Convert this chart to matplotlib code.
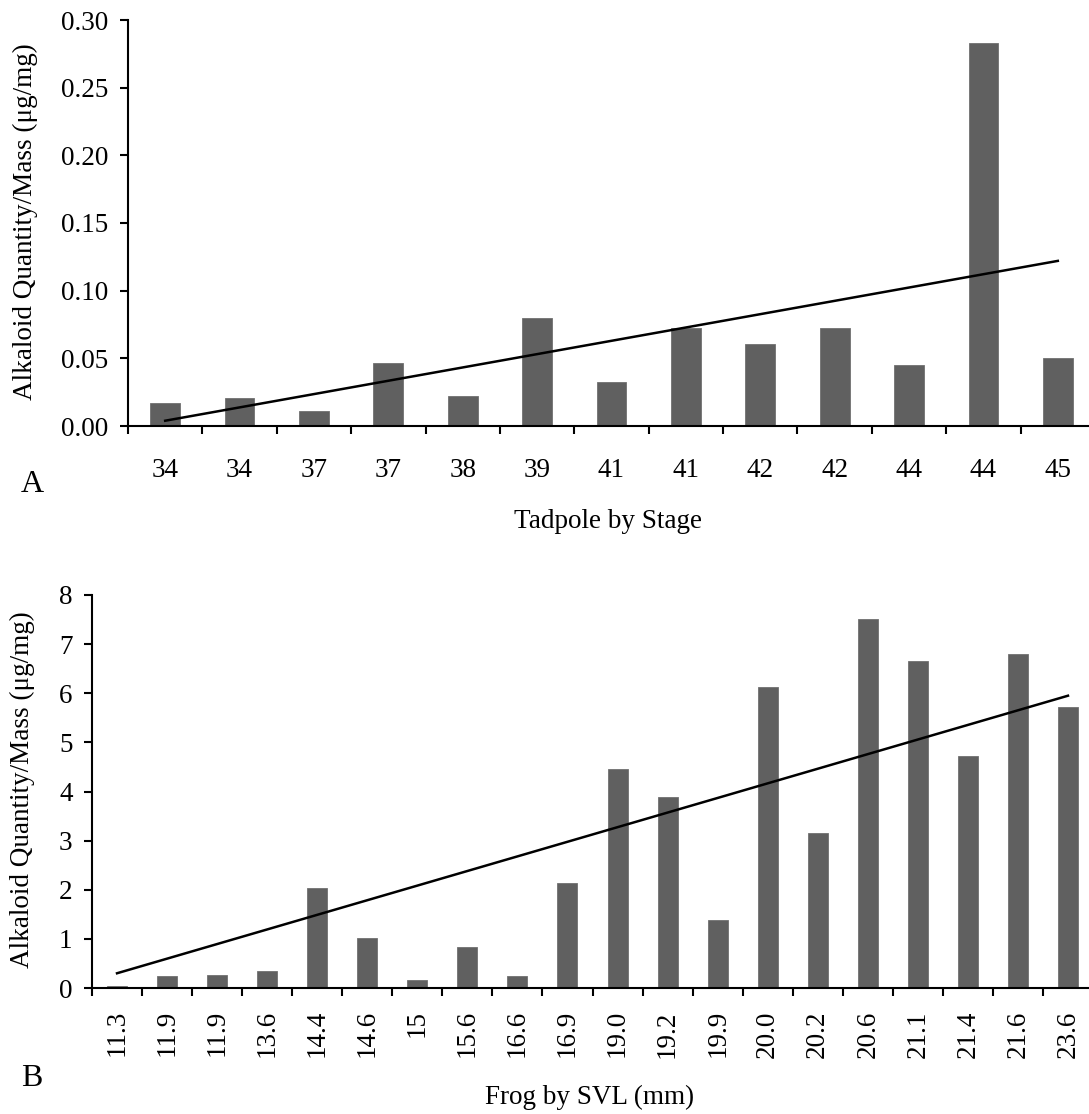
import matplotlib
matplotlib.use("Agg")
import matplotlib.pyplot as plt
import numpy as np
from matplotlib.ticker import FixedLocator, FormatStrFormatter

plt.rcParams['font.family'] = ['Liberation Serif', 'DejaVu Serif']

# ---- Data ----
tadpole_stages = ["34", "34", "37", "37", "38", "39", "41", "41", "42", "42", "44", "44", "45"]
tadpole_values = [0.0172, 0.0209, 0.0113, 0.0468, 0.0222, 0.0800, 0.0328, 0.0722,
                  0.0604, 0.0727, 0.0451, 0.2833, 0.0505]
tadpole_trend = [0.0039, 0.1220]   # trend line value at first and last bar

frog_svl = ["11.3", "11.9", "11.9", "13.6", "14.4", "14.6", "15", "15.6", "16.6", "16.9",
            "19.0", "19.2", "19.9", "20.0", "20.2", "20.6", "21.1", "21.4", "21.6", "23.6"]
frog_values = [0.035, 0.236, 0.257, 0.354, 2.04, 1.02, 0.17, 0.84, 0.25, 2.14,
               4.45, 3.88, 1.375, 6.13, 3.15, 7.51, 6.65, 4.72, 6.79, 5.72]
frog_trend = [0.30, 5.95]

bar_color = '#606060'
FS = 19.5
W, H = 1089, 1114
fig = plt.figure(figsize=(W / 100, H / 100), dpi=100)

def style(ax, n, labels, ymax, yticks, fmt, rot, pad):
    x = np.arange(n)
    ax.set_xlim(-0.5, n - 0.5)
    ax.set_ylim(0, ymax)
    for s in ['top', 'right']:
        ax.spines[s].set_visible(False)
    for s in ['left', 'bottom']:
        ax.spines[s].set_linewidth(1.5)
        ax.spines[s].set_color('black')
    ax.set_xticks(x)
    ax.set_xticklabels(labels, rotation=rot, fontsize=FS)
    ax.xaxis.set_minor_locator(FixedLocator(np.arange(n + 1) - 0.5))
    ax.tick_params(axis='x', which='major', length=0, pad=pad)
    ax.tick_params(axis='x', which='minor', length=6, width=1.5, direction='out')
    ax.set_yticks(yticks)
    ax.yaxis.set_major_formatter(FormatStrFormatter(fmt))
    ax.tick_params(axis='y', which='major', length=6, width=1.5, direction='out',
                   labelsize=FS, pad=8)

# ---- Panel A ----
axA = fig.add_axes([128 / W, 1 - 426 / H, 967 / W, 406 / H])
nA = len(tadpole_values)
xA = np.arange(nA)
axA.bar(xA, tadpole_values, width=0.4, color=bar_color, edgecolor='#707070', linewidth=0.6)
axA.plot([xA[0], xA[-1]], tadpole_trend, color='black', lw=1.8)
style(axA, nA, tadpole_stages, 0.30, np.arange(0, 0.301, 0.05), '%.2f', 0, 23)

# ---- Panel B ----
axB = fig.add_axes([92 / W, 1 - 988 / H, 1001 / W, 393 / H])
nB = len(frog_values)
xB = np.arange(nB)
axB.bar(xB, frog_values, width=0.4, color=bar_color, edgecolor='#707070', linewidth=0.6)
axB.plot([xB[0], xB[-1]], frog_trend, color='black', lw=1.8)
style(axB, nB, frog_svl, 8, np.arange(0, 9, 1), '%d', 90, 16)

# ---- Text ----
fig.text(25 / W, 1 - 222 / H, "Alkaloid Quantity/Mass (\u03bcg/mg)", rotation=90,
         ha='center', va='center', fontsize=FS)
fig.text(22 / W, 1 - 790 / H, "Alkaloid Quantity/Mass (\u03bcg/mg)", rotation=90,
         ha='center', va='center', fontsize=FS)
fig.text(608 / W, 1 - 522 / H, "Tadpole by Stage", ha='center', va='center', fontsize=FS)
fig.text(590 / W, 1 - 1097 / H, "Frog by SVL (mm)", ha='center', va='center', fontsize=FS)
fig.text(32 / W, 1 - 485 / H, "A", ha='center', va='center', fontsize=23)
fig.text(32 / W, 1 - 1078 / H, "B", ha='center', va='center', fontsize=23)

fig.savefig("out.png", dpi=100, facecolor='white')
